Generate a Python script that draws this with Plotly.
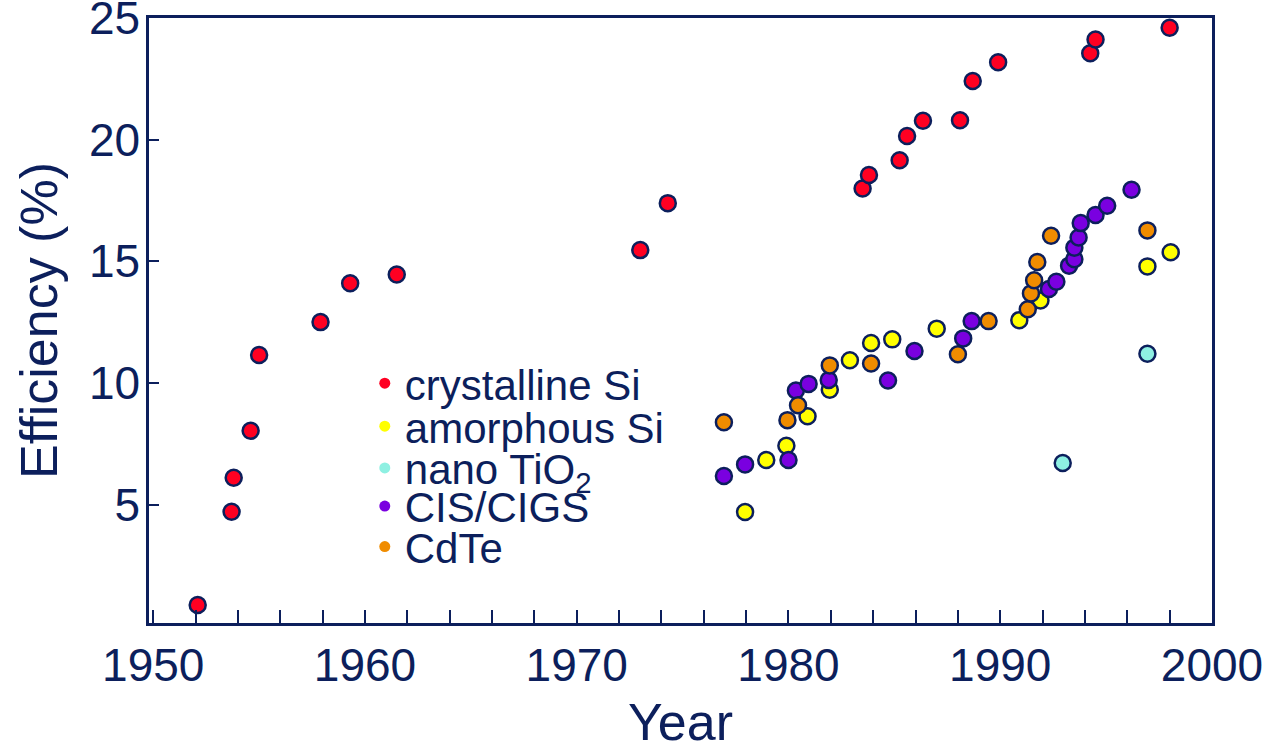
import plotly.graph_objects as go

NAVY = "#0c1f5c"
FONT = "Liberation Sans, Arial, sans-serif"

# crystalline Si
csi_year = [1952.1, 1953.7, 1953.8, 1954.6, 1955.0, 1957.9, 1959.3, 1961.5, 1973.0, 1974.3,
            1983.5, 1983.8, 1985.25, 1985.6, 1986.35, 1988.1, 1988.7, 1989.9, 1994.25, 1994.5, 1998.0]
csi_eff = [0.87, 4.7, 6.1, 8.03, 11.15, 12.5, 14.1, 14.46, 15.46, 17.39,
           17.99, 18.55, 19.15, 20.15, 20.78, 20.8, 22.41, 23.18, 23.55, 24.12, 24.6]

# amorphous Si
asi_year = [1977.95, 1978.95, 1979.9, 1980.9, 1981.95, 1982.9, 1983.9, 1984.9, 1987.0,
            1990.9, 1991.9, 1996.95, 1998.05]
asi_eff = [4.69, 6.83, 7.42, 8.63, 9.72, 10.93, 11.64, 11.79, 12.23,
           12.58, 13.39, 14.79, 15.37]

# nano TiO2
tio_year = [1992.95, 1996.95]
tio_eff = [6.71, 11.2]

# CIS/CIGS
cigs_year = [1976.95, 1977.95, 1980.0, 1980.35, 1980.95, 1981.9, 1984.7, 1985.95, 1988.25,
             1988.65, 1992.3, 1992.65, 1993.25, 1993.5, 1993.5, 1993.7, 1993.8, 1994.5,
             1995.05, 1996.2]
cigs_eff = [6.17, 6.65, 6.83, 9.69, 9.96, 10.12, 10.1, 11.31, 11.83,
            12.54, 13.86, 14.16, 14.82, 15.08, 15.56, 15.98, 16.57, 16.9,
            17.28, 17.94]

# CdTe
cdte_year = [1976.95, 1979.95, 1980.45, 1981.95, 1983.9, 1988.0, 1989.45, 1991.3, 1991.45,
             1991.6, 1991.75, 1992.4, 1996.95]
cdte_eff = [8.38, 8.47, 9.08, 10.72, 10.8, 11.18, 12.54, 13.03, 13.68,
            14.22, 14.97, 16.05, 16.27]

series = [
    ("crystalline Si", csi_year, csi_eff, "#ff0022"),
    ("amorphous Si", asi_year, asi_eff, "#ffff00"),
    ("nano TiO<sub>2</sub>", tio_year, tio_eff, "#8ef0e2"),
    ("CIS/CIGS", cigs_year, cigs_eff, "#7a00e0"),
    ("CdTe", cdte_year, cdte_eff, "#f08c00"),
]

# vertical centre of each legend entry, as a fraction of the plot height
legend_y = [0.396, 0.325, 0.256, 0.193, 0.126]

fig = go.Figure()
for name, xs, ys, col in series:
    fig.add_trace(go.Scatter(
        x=xs, y=ys, mode="markers", name=name, showlegend=False,
        marker=dict(color=col, size=16, line=dict(color=NAVY, width=2.5)),
    ))

legends = {}
for i, (name, xs, ys, col) in enumerate(series):
    key = "legend" if i == 0 else f"legend{i + 1}"
    fig.add_trace(go.Scatter(
        x=[None], y=[None], mode="markers", name=name, showlegend=True,
        legend=key,
        marker=dict(color=col, size=11, line=dict(width=0)),
    ))
    legends[key] = dict(
        x=0.203, y=legend_y[i], xanchor="left", yanchor="middle",
        font=dict(family=FONT, size=42, color=NAVY),
        bgcolor="rgba(0,0,0,0)", itemwidth=30,
    )

axis_common = dict(
    showline=True, linecolor=NAVY, linewidth=2.5, mirror=True,
    showgrid=False, zeroline=False, automargin=False,
    ticks="inside", tickcolor=NAVY, tickwidth=2,
    tickfont=dict(family=FONT, size=46, color=NAVY),
    ticklabeloverflow="allow",
)

fig.update_layout(
    width=1276, height=751,
    margin=dict(l=149, r=64, t=18, b=128),
    paper_bgcolor="white", plot_bgcolor="white",
    font=dict(family=FONT, color=NAVY),
    xaxis=dict(
        **axis_common,
        range=[1949.8, 2000], tickmode="linear", tick0=1950, dtick=10, ticklen=13,
        minor=dict(dtick=2, tick0=1950, ticks="inside", ticklen=13, tickcolor=NAVY, tickwidth=2),
        title=dict(text="Year", font=dict(family=FONT, size=52, color=NAVY), standoff=38),
        ticklabelstandoff=0,
    ),
    yaxis=dict(
        **axis_common,
        range=[0.13, 25.001], tickmode="array", tickvals=[5, 10, 15, 20, 25], ticklen=10,
        title=dict(text="Efficiency (%)", font=dict(family=FONT, size=52, color=NAVY), standoff=15),
        ticklabelstandoff=-3,
    ),
    **legends,
)

# remove the browser's default 8 px page margin so the figure fills the window
fig.write_html("out.html", config={"displayModeBar": False},
               post_script="document.body.style.margin='0';")
